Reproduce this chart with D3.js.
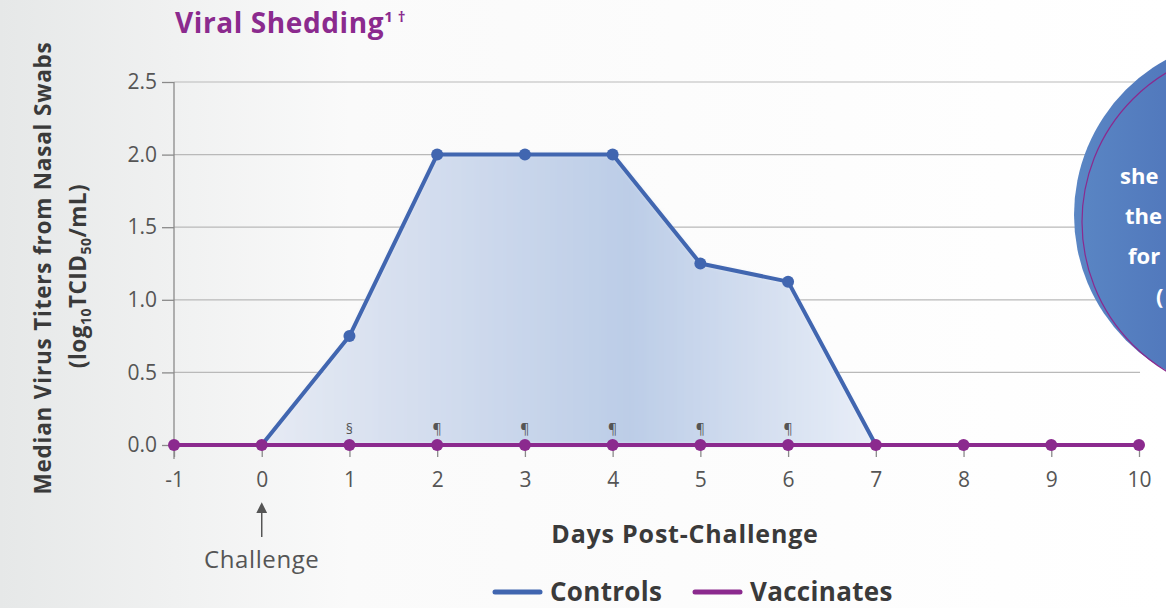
<!DOCTYPE html>
<html>
<head>
<meta charset="utf-8">
<script src="https://cdn.jsdelivr.net/npm/d3@7"></script>
<style>
  html, body { margin: 0; padding: 0; background: #fff; }
  svg { display: block; font-family: "Open Sans", Lato, sans-serif; }
</style>
</head>
<body>
<svg id="chart" width="1166" height="608"></svg>
<script>
// data
var days = [-1, 0, 1, 2, 3, 4, 5, 6, 7, 8, 9, 10];
var controls = [0, 0, 0.75, 2, 2, 2, 1.25, 1.125, 0, 0, 0, 0];
var vaccinates = [0, 0, 0, 0, 0, 0, 0, 0, 0, 0, 0, 0];
var yTicks = [0, 0.5, 1, 1.5, 2, 2.5];
var markDays = [1, 2, 3, 4, 5, 6];
var markSymbols = ["§", "¶", "¶", "¶", "¶", "¶"];
// only the start of each callout line is visible in the picture
var calloutLines = ["she", "the", "for", "("];

var blue = "#4166b0";
var purple = "#8b2a8e";
var grey = "#555";
var dark = "#3a3a3a";
var font = '"Open Sans", Lato, sans-serif';

var svg = d3.select("#chart");
var defs = svg.append("defs");

var bg = defs.append("linearGradient").attr("id", "bg").attr("x1", 0).attr("x2", 1);
bg.append("stop").attr("offset", 0).attr("stop-color", "#e6e8e8");
bg.append("stop").attr("offset", 0.3).attr("stop-color", "#fafafa");
bg.append("stop").attr("offset", 1).attr("stop-color", "#ffffff");
svg.append("rect").attr("width", 1166).attr("height", 608).attr("fill", "url(#bg)");

var x = d3.scaleLinear().domain([-1, 10]).range([174, 1139]);
var y = d3.scaleLinear().domain([0, 2.5]).range([445, 82]);

// grid
svg.append("g").selectAll("line").data(yTicks.slice(1)).enter().append("line")
  .attr("x1", x(-1)).attr("x2", 1140)
  .attr("y1", function(d) { return y(d); }).attr("y2", function(d) { return y(d); })
  .attr("stroke", "#b9b9b9").attr("stroke-width", 1.2);

// area under controls
var ag = defs.append("linearGradient").attr("id", "area").attr("x1", 0).attr("x2", 1);
ag.append("stop").attr("offset", 0).attr("stop-color", "#e6eaf4");
ag.append("stop").attr("offset", 0.6).attr("stop-color", "#bccde7");
ag.append("stop").attr("offset", 1).attr("stop-color", "#e9eef8");
defs.append("filter").attr("id", "soft").append("feGaussianBlur").attr("stdDeviation", 2);

var ctlIdx = d3.range(1, 9);
svg.append("path").datum(ctlIdx.map(function(i) { return controls[i]; }))
  .attr("d", d3.area().x(function(d, i) { return x(days[ctlIdx[i]]); }).y0(y(0)).y1(function(d) { return y(d); }))
  .attr("fill", "url(#area)").attr("filter", "url(#soft)");

// y axis
var yAxis = svg.append("g").attr("transform", "translate(" + x(-1) + ",0)")
  .call(d3.axisLeft(y).tickValues(yTicks).tickFormat(d3.format(".1f")).tickSize(12).tickPadding(5))
  .attr("font-family", font);
yAxis.select(".domain").attr("stroke", "#8a8a8a").attr("stroke-width", 1.3).attr("d", "M0," + y(2.5) + "V" + (y(0) + 14));
yAxis.selectAll(".tick line").attr("stroke", "#8a8a8a").attr("stroke-width", 1.3);
yAxis.selectAll(".tick text").attr("fill", grey).attr("font-size", 21);

// x axis
var xAxis = svg.append("g").attr("transform", "translate(0," + y(0) + ")")
  .call(d3.axisBottom(x).tickValues(days).tickFormat(function(d) { return String(d); }).tickSize(12).tickPadding(15))
  .attr("font-family", font);
xAxis.select(".domain").remove();
xAxis.selectAll(".tick line").attr("stroke", "#8a8a8a").attr("stroke-width", 1.3);
xAxis.selectAll(".tick text").attr("fill", grey).attr("font-size", 21);

// lines
var line = d3.line().x(function(d) { return x(d[0]); }).y(function(d) { return y(d[1]); });
var ctlPts = ctlIdx.map(function(i) { return [days[i], controls[i]]; });
svg.append("path").datum(ctlPts).attr("d", line).attr("fill", "none")
  .attr("stroke", blue).attr("stroke-width", 4).attr("stroke-linejoin", "round");
svg.append("g").selectAll("circle").data(ctlPts.filter(function(d) { return d[1] > 0; })).enter().append("circle")
  .attr("cx", function(d) { return x(d[0]); }).attr("cy", function(d) { return y(d[1]); })
  .attr("r", 6).attr("fill", blue);

var vacPts = days.map(function(d, i) { return [d, vaccinates[i]]; });
svg.append("path").datum(vacPts).attr("d", line).attr("fill", "none")
  .attr("stroke", purple).attr("stroke-width", 4);
svg.append("g").selectAll("circle").data(vacPts).enter().append("circle")
  .attr("cx", function(d) { return x(d[0]); }).attr("cy", function(d) { return y(d[1]); })
  .attr("r", 6).attr("fill", purple);

// significance marks
svg.append("g").selectAll("text").data(markDays).enter().append("text")
  .attr("x", function(d) { return x(d); }).attr("y", y(0) - 11)
  .attr("text-anchor", "middle").attr("font-size", 14).attr("fill", grey)
  .text(function(d, i) { return markSymbols[i]; });

// challenge arrow
defs.append("marker").attr("id", "arr").attr("viewBox", "0 0 10 10").attr("refX", 2).attr("refY", 5)
  .attr("markerWidth", 8).attr("markerHeight", 8).attr("markerUnits", "userSpaceOnUse").attr("orient", "auto")
  .append("path").attr("d", "M0,0L10,5L0,10z").attr("fill", grey);
defs.select("#arr").attr("markerWidth", 11).attr("markerHeight", 11);
svg.append("line").attr("x1", x(0)).attr("x2", x(0)).attr("y1", 537).attr("y2", 511)
  .attr("stroke", grey).attr("stroke-width", 1.5).attr("marker-end", "url(#arr)");
svg.append("text").attr("x", x(0)).attr("y", 568).attr("text-anchor", "middle")
  .attr("font-size", 24).attr("letter-spacing", 0.6).attr("fill", grey).text("Challenge");

// axis titles
svg.append("text").attr("x", 685).attr("y", 543).attr("text-anchor", "middle")
  .attr("font-size", 25).attr("letter-spacing", 0.8).attr("font-weight", "bold").attr("fill", dark)
  .text("Days Post-Challenge");
var yt = svg.append("g").attr("transform", "translate(0,268) rotate(-90)");
yt.append("text").attr("x", 0).attr("y", 51).attr("text-anchor", "middle")
  .attr("font-size", 22.5).attr("letter-spacing", 0.8).attr("font-weight", "bold").attr("fill", dark)
  .text("Median Virus Titers from Nasal Swabs");
var yt2 = yt.append("text").attr("x", -8).attr("y", 86).attr("text-anchor", "middle")
  .attr("font-size", 22.5).attr("letter-spacing", 0.5).attr("font-weight", "bold").attr("fill", dark);
yt2.append("tspan").text("(log");
yt2.append("tspan").attr("font-size", 14).attr("dy", 5).text("10");
yt2.append("tspan").attr("dy", -5).text("TCID");
yt2.append("tspan").attr("font-size", 14).attr("dy", 5).text("50");
yt2.append("tspan").attr("dy", -5).text("/mL)");

// title
var title = svg.append("text").attr("x", 175).attr("y", 33)
  .attr("font-size", 28).attr("letter-spacing", 0.6).attr("font-weight", "bold").attr("fill", purple);
title.append("tspan").text("Viral Shedding");
title.append("tspan").attr("font-size", 15).attr("dy", -11).text("1 †");

// legend
var legend = [["Controls", blue, 495], ["Vaccinates", purple, 695]];
var lg = svg.append("g").selectAll("g").data(legend).enter().append("g");
lg.append("line").attr("x1", function(d) { return d[2]; }).attr("x2", function(d) { return d[2] + 45; })
  .attr("y1", 592).attr("y2", 592).attr("stroke", function(d) { return d[1]; })
  .attr("stroke-width", 5).attr("stroke-linecap", "round");
lg.append("text").attr("x", function(d) { return d[2] + 55; }).attr("y", 601)
  .attr("font-size", 26).attr("letter-spacing", 0.3).attr("font-weight", "bold").attr("fill", dark)
  .text(function(d) { return d[0]; });

// callout circle, cut by the right edge
var cg = defs.append("linearGradient").attr("id", "circ").attr("x1", 0).attr("x2", 1);
cg.append("stop").attr("offset", 0).attr("stop-color", "#5a86c4");
cg.append("stop").attr("offset", 0.5).attr("stop-color", "#4a6db6");
svg.append("circle").attr("cx", 1251).attr("cy", 215).attr("r", 177).attr("fill", "url(#circ)");
svg.append("circle").attr("cx", 1256).attr("cy", 222).attr("r", 174).attr("fill", "none")
  .attr("stroke", purple).attr("stroke-width", 1.2);
svg.append("g").selectAll("text").data(calloutLines).enter().append("text")
  .attr("x", function(d, i) { return [1120, 1125, 1128, 1156][i]; })
  .attr("y", function(d, i) { return 184 + i * 40; })
  .attr("font-size", 22).attr("font-weight", "bold").attr("fill", "#fff")
  .text(function(d) { return d; });
</script>
</body>
</html>
